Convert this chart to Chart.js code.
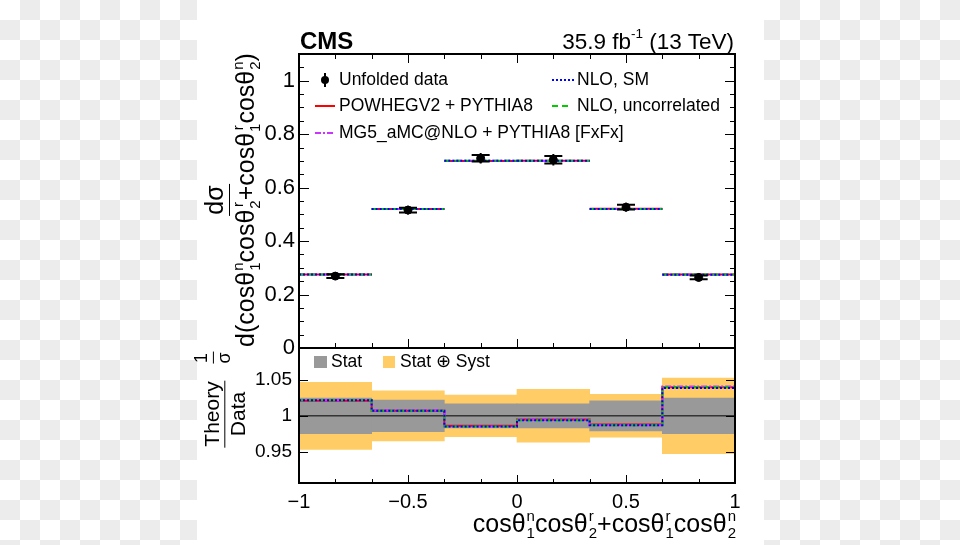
<!DOCTYPE html>
<html>
<head>
<meta charset="utf-8">
<script src="https://cdn.jsdelivr.net/npm/chart.js@4.4.1/dist/chart.umd.min.js"></script>
<style>
html, body { margin: 0; padding: 0; }
body {
  width: 960px; height: 545px; position: relative; overflow: hidden;
  background-color: #fff;
  background-image: conic-gradient(#ececec 0 25%, #fff 0 50%, #ececec 0 75%, #fff 0);
  background-size: 40px 40px;
  font-family: "Liberation Sans", Arial, sans-serif; color: #000;
}
#panel { position: absolute; left: 197px; top: 0; width: 567px; height: 545px; background: #fff; }
canvas { position: absolute; left: 0; top: 0; }
#overlay { position: absolute; left: 0; top: 0; }
.txt { position: absolute; white-space: nowrap; line-height: 1; transform: translateY(-50%); }
.leg { font-size: 17.5px; }
.rot { position: absolute; white-space: nowrap; transform: translate(-50%, -50%) rotate(-90deg); }
.frac { display: inline-flex; flex-direction: column; align-items: center; }
.frac > span { display: block; line-height: 1.2; padding: 0 1px; text-align: center; }
.frac > .num { border-bottom: 1.5px solid #000; }
.ss { display: inline-flex; flex-direction: column; font-size: 0.6em; line-height: 1.1; vertical-align: 0.75em; margin-left: 1px; }
</style>
</head>
<body>
<div id="panel"></div>
<canvas id="mainCanvas" width="960" height="545"></canvas>
<canvas id="ratioCanvas" width="960" height="545"></canvas>

<svg id="overlay" width="960" height="545">
  <line x1="325" y1="73" x2="325" y2="87" stroke="#000" stroke-width="2"/>
  <circle cx="325" cy="80" r="4" fill="#000"/>
  <line x1="315" y1="106" x2="335" y2="106" stroke="#ff0000" stroke-width="2"/>
  <line x1="315" y1="133" x2="335" y2="133" stroke="#cc33ff" stroke-width="2" stroke-dasharray="6,2,2,2"/>
  <line x1="552" y1="80" x2="576" y2="80" stroke="#0000ff" stroke-width="2" stroke-dasharray="2,2"/>
  <line x1="552" y1="106" x2="568" y2="106" stroke="#00cc00" stroke-width="2" stroke-dasharray="6,4"/>
  <rect x="314" y="356" width="13" height="12" fill="#999999"/>
  <rect x="383" y="356" width="12" height="12" fill="#ffcc66"/>
</svg>

<div class="txt" style="left:300px;top:41px;font-size:24px;font-weight:bold;">CMS</div>
<div class="txt" style="right:226px;top:40px;font-size:22.5px;">35.9 fb<span style="font-size:0.6em;vertical-align:0.8em;">-1</span> (13 TeV)</div>

<div class="txt leg" style="left:339px;top:80px;">Unfolded data</div>
<div class="txt leg" style="left:339px;top:106px;">POWHEGV2 + PYTHIA8</div>
<div class="txt leg" style="left:339px;top:133px;">MG5_aMC@NLO + PYTHIA8 [FxFx]</div>
<div class="txt leg" style="left:577px;top:80px;">NLO, SM</div>
<div class="txt leg" style="left:577px;top:106px;">NLO, uncorrelated</div>
<div class="txt leg" style="left:331px;top:362px;">Stat</div>
<div class="txt leg" style="left:400px;top:362px;">Stat ⊕ Syst</div>

<div class="txt" style="right:224px;top:524px;font-size:25px;">cosθ<span class="ss"><span>n</span><span>1</span></span>cosθ<span class="ss"><span>r</span><span>2</span></span>+cosθ<span class="ss"><span>r</span><span>1</span></span>cosθ<span class="ss"><span>n</span><span>2</span></span></div>

<div class="rot" style="left:213px;top:358px;font-size:18px;"><span class="frac"><span class="num">1</span><span>σ</span></span></div>
<div class="rot" style="left:231px;top:200px;font-size:25px;"><span class="frac"><span class="num">dσ</span><span>d(cosθ<span class="ss"><span>n</span><span>1</span></span>cosθ<span class="ss"><span>r</span><span>2</span></span>+cosθ<span class="ss"><span>r</span><span>1</span></span>cosθ<span class="ss"><span>n</span><span>2</span></span>)</span></span></div>
<div class="rot" style="left:225px;top:414px;font-size:21px;"><span class="frac"><span class="num">Theory</span><span>Data</span></span></div>

<script>
// bins of cos(theta1 n) cos(theta2 r) + cos(theta1 r) cos(theta2 n)
const binEdges = [-1, -2 / 3, -1 / 3, 0, 1 / 3, 2 / 3, 1];
const binCenters = [-5 / 6, -1 / 2, -1 / 6, 1 / 6, 1 / 2, 5 / 6];

// normalised cross section
const dataValues = [0.269, 0.516, 0.710, 0.704, 0.527, 0.264];
const dataErrors = [0.007, 0.009, 0.012, 0.014, 0.009, 0.007];
const powhegValues = [0.275, 0.520, 0.700, 0.701, 0.521, 0.275];
const mg5Values = [0.275, 0.520, 0.701, 0.700, 0.520, 0.275];
const nloSmValues = [0.275, 0.520, 0.701, 0.701, 0.520, 0.274];
const nloUncValues = [0.275, 0.520, 0.701, 0.701, 0.520, 0.275];

// theory / data
const powhegRatio = [1.021, 1.007, 0.986, 0.995, 0.988, 1.040];
const mg5Ratio = [1.022, 1.008, 0.985, 0.995, 0.987, 1.041];
const nloSmRatio = [1.022, 1.007, 0.985, 0.994, 0.987, 1.039];
const nloUncRatio = [1.022, 1.007, 0.985, 0.994, 0.987, 1.040];
const statUnc = [0.025, 0.022, 0.017, 0.017, 0.021, 0.025];
const totalUnc = [0.047, 0.035, 0.029, 0.037, 0.030, 0.053];

// tick labels
const xTicks = [-1, -0.5, 0, 0.5, 1];
const mainYTicks = [0, 0.2, 0.4, 0.6, 0.8, 1];
const ratioYTicks = [0.95, 1, 1.05];

const FONT = '"Liberation Sans", Arial, sans-serif';
const COLORS = { powheg: '#ff0000', mg5: '#cc33ff', nloSm: '#0000ff', nloUnc: '#00cc00' };

function fmt(v) {
  return (v < 0 ? '\u2212' : '') + String(Math.abs(v));
}

// one flat segment per bin, broken between bins
function segments(vals) {
  const out = [];
  vals.forEach((v, i) => {
    out.push({ x: binEdges[i], y: v }, { x: binEdges[i + 1], y: v }, { x: binEdges[i + 1], y: null });
  });
  return out;
}

// histogram outline for the ratio panel
function steps(vals) {
  const out = vals.map((v, i) => ({ x: binEdges[i], y: v }));
  out.push({ x: binEdges[binEdges.length - 1], y: vals[vals.length - 1] });
  return out;
}

function range(from, to, step) {
  const out = [];
  for (let v = from; v <= to + 1e-9; v += step) out.push(v);
  return out;
}

// frame with inward ticks, ROOT style
function frameTicks(cfg) {
  return {
    id: 'frameTicks',
    afterDraw(chart) {
      const { ctx, chartArea: a, scales } = chart;
      const xs = scales.x, ys = scales.y;
      const line = (x1, y1, x2, y2) => { ctx.beginPath(); ctx.moveTo(x1, y1); ctx.lineTo(x2, y2); ctx.stroke(); };
      ctx.save();
      ctx.strokeStyle = '#000';
      ctx.lineWidth = 1;
      cfg.yMinor.forEach(v => {
        const py = Math.round(ys.getPixelForValue(v)) + 0.5;
        const len = cfg.yMajor.some(m => Math.abs(m - v) < 1e-6) ? cfg.yMajorLen : cfg.yMinorLen;
        line(a.left, py, a.left + len, py);
        line(a.right, py, a.right - len, py);
      });
      cfg.xMinor.forEach(v => {
        const px = Math.round(xs.getPixelForValue(v)) + 0.5;
        const major = xTicks.some(m => Math.abs(m - v) < 1e-6);
        const len = major ? cfg.xMajorLen : cfg.xMinorLen;
        if (cfg.top) line(px, a.top, px, a.top + len);
        line(px, a.bottom, px, a.bottom - len);
      });
      ctx.lineWidth = 2;
      ctx.strokeRect(a.left, a.top, a.right - a.left, a.bottom - a.top);
      ctx.restore();
    }
  };
}

const errorBars = {
  id: 'errorBars',
  afterDatasetsDraw(chart) {
    const { ctx, scales: { x, y } } = chart;
    ctx.save();
    ctx.strokeStyle = '#000';
    ctx.lineWidth = 2;
    binCenters.forEach((c, i) => {
      const px = x.getPixelForValue(c);
      const top = y.getPixelForValue(dataValues[i] + dataErrors[i]);
      const bot = y.getPixelForValue(dataValues[i] - dataErrors[i]);
      ctx.beginPath();
      ctx.moveTo(px, top - 2); ctx.lineTo(px, bot + 2);
      ctx.moveTo(px - 9, top); ctx.lineTo(px + 9, top);
      ctx.moveTo(px - 9, bot); ctx.lineTo(px + 9, bot);
      ctx.stroke();
    });
    ctx.restore();
  }
};

function theoryLine(label, data, color, dash, order) {
  return {
    type: 'line', label, data, borderColor: color, borderWidth: 2, borderDash: dash,
    pointRadius: 0, fill: false, spanGaps: false, order
  };
}

new Chart(document.getElementById('mainCanvas'), {
  type: 'line',
  data: {
    datasets: [
      {
        type: 'scatter', label: 'Unfolded data',
        data: binCenters.map((c, i) => ({ x: c, y: dataValues[i] })),
        pointRadius: 4, pointBackgroundColor: '#000', pointBorderColor: '#000', showLine: false, order: 0
      },
      theoryLine('NLO, SM', segments(nloSmValues), COLORS.nloSm, [2, 2], 1),
      theoryLine('NLO, uncorrelated', segments(nloUncValues), COLORS.nloUnc, [6, 4], 2),
      theoryLine('MG5_aMC@NLO + PYTHIA8 [FxFx]', segments(mg5Values), COLORS.mg5, [6, 2, 2, 2], 3),
      theoryLine('POWHEGV2 + PYTHIA8', segments(powhegValues), COLORS.powheg, [], 4)
    ]
  },
  options: {
    responsive: false,
    animation: false,
    layout: { padding: { left: 0, top: 54, right: 225, bottom: 197 } },
    plugins: { legend: { display: false }, tooltip: { enabled: false } },
    scales: {
      x: { type: 'linear', min: -1, max: 1, display: false },
      y: {
        type: 'linear', min: 0, max: 1.1,
        afterFit: s => { s.width = 299; },
        afterBuildTicks: s => { s.ticks = mainYTicks.map(v => ({ value: v })); },
        grid: { display: false, drawTicks: false },
        border: { display: false },
        ticks: { padding: 4, color: '#000', font: { family: FONT, size: 22 }, callback: v => fmt(v) }
      }
    }
  },
  plugins: [
    frameTicks({
      yMajor: mainYTicks, yMinor: range(0, 1.1, 0.05), yMajorLen: 10, yMinorLen: 5,
      xMinor: range(-1, 1, 1 / 6), xMajorLen: 9, xMinorLen: 5, top: true
    }),
    errorBars
  ]
});

new Chart(document.getElementById('ratioCanvas'), {
  type: 'line',
  data: {
    datasets: [
      theoryLine('NLO, SM', steps(nloSmRatio), COLORS.nloSm, [2, 2], 0),
      theoryLine('NLO, uncorrelated', steps(nloUncRatio), COLORS.nloUnc, [6, 4], 1),
      theoryLine('MG5_aMC@NLO + PYTHIA8 [FxFx]', steps(mg5Ratio), COLORS.mg5, [6, 2, 2, 2], 2),
      theoryLine('POWHEGV2 + PYTHIA8', steps(powhegRatio), COLORS.powheg, [], 3),
      {
        type: 'line', label: 'unity', data: [{ x: -1, y: 1 }, { x: 1, y: 1 }],
        borderColor: '#000', borderWidth: 1, pointRadius: 0, order: 4
      },
      {
        type: 'bar', label: 'Stat',
        data: binCenters.map((c, i) => ({ x: c, y: [1 - statUnc[i], 1 + statUnc[i]] })),
        backgroundColor: '#999999', borderWidth: 0, grouped: false,
        barPercentage: 1, categoryPercentage: 1, order: 5
      },
      {
        type: 'bar', label: 'Stat \u2295 Syst',
        data: binCenters.map((c, i) => ({ x: c, y: [1 - totalUnc[i], 1 + totalUnc[i]] })),
        backgroundColor: '#ffcc66', borderWidth: 0, grouped: false,
        barPercentage: 1, categoryPercentage: 1, order: 6
      }
    ].map(d => d.type === 'line' && d.label !== 'unity' ? Object.assign(d, { stepped: true }) : d)
  },
  options: {
    responsive: false,
    animation: false,
    layout: { padding: { left: 0, top: 348, right: 225, bottom: 0 } },
    plugins: { legend: { display: false }, tooltip: { enabled: false } },
    scales: {
      x: {
        type: 'linear', min: -1, max: 1, offset: false,
        afterFit: s => { s.height = 62; },
        afterBuildTicks: s => { s.ticks = xTicks.map(v => ({ value: v })); },
        grid: { display: false, drawTicks: false },
        border: { display: false },
        ticks: { padding: 7, color: '#000', font: { family: FONT, size: 20 }, maxRotation: 0, callback: v => fmt(v) }
      },
      y: {
        type: 'linear', min: 0.906, max: 1.095,
        afterFit: s => { s.width = 299; },
        afterBuildTicks: s => { s.ticks = ratioYTicks.map(v => ({ value: v })); },
        grid: { display: false, drawTicks: false },
        border: { display: false },
        ticks: { padding: 7, color: '#000', font: { family: FONT, size: 19 }, callback: v => fmt(v) }
      }
    }
  },
  plugins: [
    frameTicks({
      yMajor: ratioYTicks, yMinor: ratioYTicks, yMajorLen: 9, yMinorLen: 9,
      xMinor: range(-1, 1, 1 / 6), xMajorLen: 8, xMinorLen: 4, top: false
    })
  ]
});
</script>
</body>
</html>
